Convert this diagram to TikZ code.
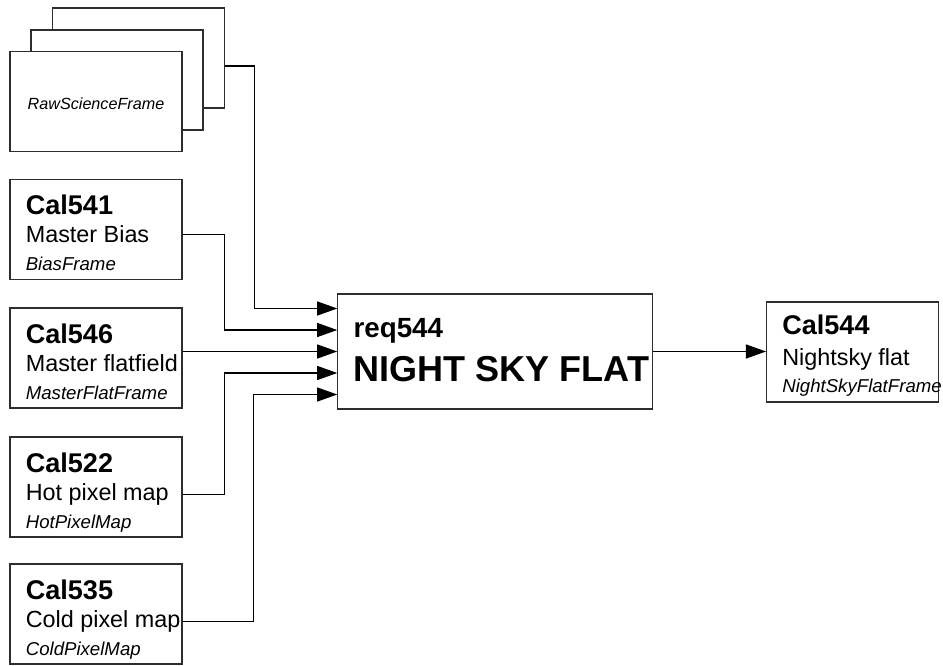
\documentclass[tikz,border=0pt]{standalone}
\usepackage{fontspec}
\setmainfont{Liberation Sans}
\usetikzlibrary{arrows.meta,calc}
\definecolor{boxline}{RGB}{45,45,45}

\begin{document}
\begin{tikzpicture}[
  frame/.style={draw=boxline,line width=.6pt,fill=white,minimum width=3.44cm,minimum height=2cm,inner sep=0pt},
  calid/.style={anchor=base west,inner sep=0pt,font=\fontsize{15.4}{18}\selectfont\bfseries},
  calname/.style={anchor=base west,inner sep=0pt,font=\fontsize{13.3}{16}\selectfont},
  caltype/.style={anchor=base west,inner sep=0pt,font=\fontsize{10.6}{13}\selectfont\itshape},
  flow/.style={draw=black,line width=.6pt,-{Triangle[length=.4cm,width=.28cm]}}]
\useasboundingbox (0,0) rectangle (18.86,13.3);
\node[frame] (raw3) at (2.77,12.14) {};
\node[frame] (raw2) at (2.34,11.70) {};
\node[frame] (raw1) at (1.92,11.27) {};
\node[inner sep=0pt,font=\fontsize{9.2}{11}\selectfont\itshape] (raw-type) at ($(raw1)+(0,-.05)$) {RawScienceFrame};
\node[frame] (bias) at (1.92,8.71) {};
\node[calid] (bias-id) at ($(bias.north west)+(.32,-.72)$) {Cal541};
\node[calname] (bias-name) at ($(bias.north west)+(.32,-1.28)$) {Master Bias};
\node[caltype] (bias-type) at ($(bias.north west)+(.32,-1.84)$) {BiasFrame};
\node[frame] (flat) at (1.92,6.14) {};
\node[calid] (flat-id) at ($(flat.north west)+(.32,-.72)$) {Cal546};
\node[calname] (flat-name) at ($(flat.north west)+(.32,-1.28)$) {Master flatfield};
\node[caltype] (flat-type) at ($(flat.north west)+(.32,-1.84)$) {MasterFlatFrame};
\node[frame] (hot) at (1.92,3.56) {};
\node[calid] (hot-id) at ($(hot.north west)+(.32,-.72)$) {Cal522};
\node[calname] (hot-name) at ($(hot.north west)+(.32,-1.28)$) {Hot pixel map};
\node[caltype] (hot-type) at ($(hot.north west)+(.32,-1.84)$) {HotPixelMap};
\node[frame] (cold) at (1.92,1.02) {};
\node[calid] (cold-id) at ($(cold.north west)+(.32,-.72)$) {Cal535};
\node[calname] (cold-name) at ($(cold.north west)+(.32,-1.28)$) {Cold pixel map};
\node[caltype] (cold-type) at ($(cold.north west)+(.32,-1.84)$) {ColdPixelMap};
\node[frame,minimum width=6.29cm,minimum height=2.3cm] (nsf) at (9.9,6.27) {};
\node[calid,font=\fontsize{15.8}{18}\selectfont\bfseries] (nsf-id) at ($(nsf.north west)+(.32,-.88)$) {req544};
\node[calid,font=\fontsize{20.5}{24}\selectfont\bfseries] (nsf-name) at ($(nsf.north west)+(.32,-1.76)$) {NIGHT SKY FLAT};
\node[frame] (nsfout) at (17.05,6.26) {};
\node[calid] (nsfout-id) at ($(nsfout.north west)+(.32,-.66)$) {Cal544};
\node[calname] (nsfout-name) at ($(nsfout.north west)+(.32,-1.28)$) {Nightsky flat};
\node[caltype] (nsfout-type) at ($(nsfout.north west)+(.32,-1.82)$) {NightSkyFlatFrame};
\coordinate (in1) at ($(nsf.west)+(0,.86)$);
\coordinate (in2) at ($(nsf.west)+(0,.43)$);
\coordinate (in3) at (nsf.west);
\coordinate (in4) at ($(nsf.west)+(0,-.43)$);
\coordinate (in5) at ($(nsf.west)+(0,-.86)$);
\draw[flow] ([yshift=-.16cm]raw3.east) -- ++(.58,0) |- (in1);
\draw[flow] (bias.east |- bias-name) -- ++(.84,0) |- (in2);
\draw[flow] (flat.east |- in3) -- (in3);
\draw[flow] (hot.east |- hot-name) -- ++(.84,0) |- (in4);
\draw[flow] (cold.east |- cold-name) -- ++(1.42,0) |- (in5);
\draw[flow] (nsf.east) -- (nsf.east -| nsfout.west);
\end{tikzpicture}
\end{document}
